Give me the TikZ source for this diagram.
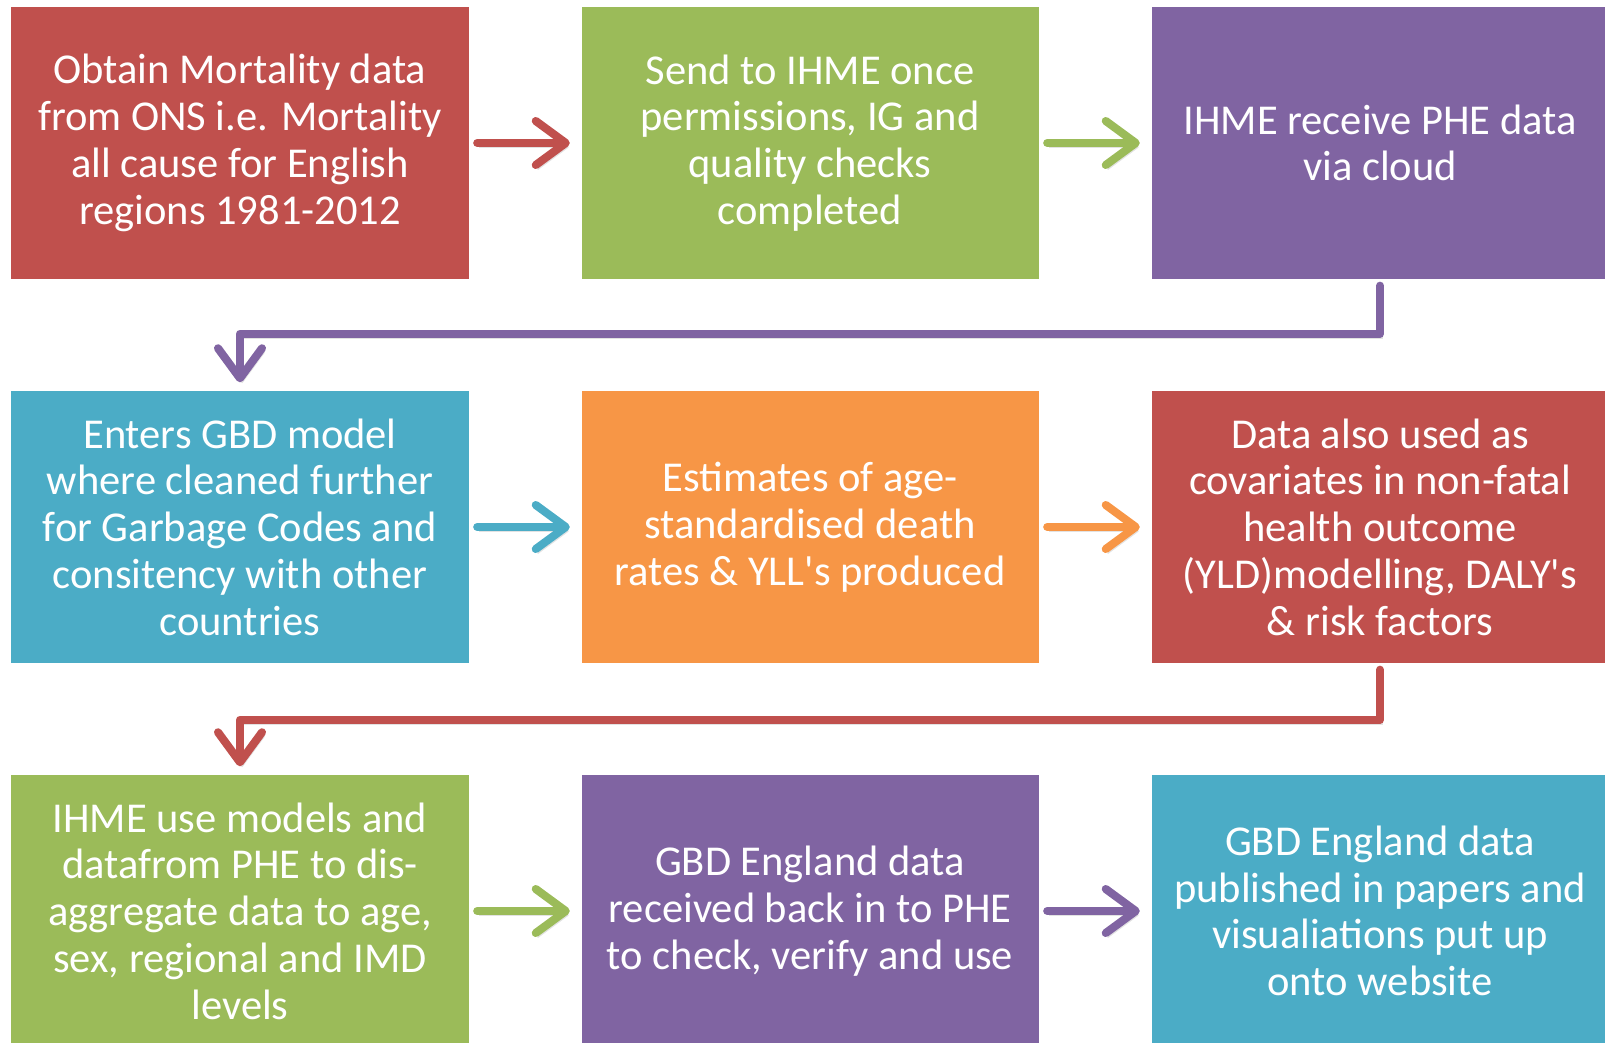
\documentclass[tikz,border=0pt]{standalone}
\usepackage{fontspec}
\setmainfont{Carlito}[Ligatures=TeXOff]
\usetikzlibrary{arrows.meta}
\definecolor{boxred}{HTML}{C0504D}
\definecolor{boxgreen}{HTML}{9BBB59}
\definecolor{boxpurple}{HTML}{8064A2}
\definecolor{boxaqua}{HTML}{4BACC6}
\definecolor{boxorange}{HTML}{F79646}
\begin{document}
\begin{tikzpicture}[
    stage/.style={fill=#1, minimum width=4.57cm, minimum height=2.72cm, inner sep=0pt,
        align=center, text=white, font=\fontsize{12.1}{13.3}\selectfont},
    flow/.style={draw=#1, line width=2.3pt, line cap=round, line join=round,
        -{Straight Barb[length=0.3cm, width=0.44cm, round]},
        preaction={draw=black!45, opacity=0.25, transform canvas={shift={(0.6pt,-1.2pt)}}}}
    ]
    \useasboundingbox (0,0) rectangle (16.05,-10.42);

    % row 1
    \node[stage=boxred]    (ons)    at (2.40,-1.43) {Obtain Mortality data\\from ONS i.e. Mortality\\all cause for English\\regions 1981-2012};
    \node[stage=boxgreen]  (send)   at (8.10,-1.43) {Send to IHME once\\permissions, IG and\\quality checks\\completed};
    \node[stage=boxpurple] (cloud)  at (13.80,-1.43) {IHME receive PHE data\\via cloud};

    % row 2
    \node[stage=boxaqua]   (gbd)    at (2.40,-5.27) {Enters GBD model\\where cleaned further\\for Garbage Codes and\\consitency with other\\countries};
    \node[stage=boxorange] (rates)  at (8.10,-5.27) {Estimates of age-\\standardised death\\rates \& YLL's produced};
    \node[stage=boxred]    (yld)    at (13.80,-5.27) {Data also used as\\covariates in non-fatal\\health outcome\\(YLD)modelling, DALY's\\\& risk factors};

    % row 3
    \node[stage=boxgreen]  (disagg) at (2.40,-9.11) {IHME use models and\\datafrom PHE to dis-\\aggregate data to age,\\sex, regional and IMD\\levels};
    \node[stage=boxpurple] (back)   at (8.10,-9.11) {GBD England data\\received back in to PHE\\to check, verify and use};
    \node[stage=boxaqua]   (web)    at (13.80,-9.11) {GBD England data\\published in papers and\\visualiations put up\\onto website};

    % arrows along the rows
    \draw[flow=boxred,    shorten <=0.08cm, shorten >=0.11cm] (ons.east) -- (send.west);
    \draw[flow=boxgreen,  shorten <=0.08cm, shorten >=0.11cm] (send.east) -- (cloud.west);
    \draw[flow=boxaqua,   shorten <=0.08cm, shorten >=0.11cm] (gbd.east) -- (rates.west);
    \draw[flow=boxorange, shorten <=0.08cm, shorten >=0.11cm] (rates.east) -- (yld.west);
    \draw[flow=boxgreen,  shorten <=0.08cm, shorten >=0.11cm] (disagg.east) -- (back.west);
    \draw[flow=boxpurple, shorten <=0.08cm, shorten >=0.11cm] (back.east) -- (web.west);

    % arrows back to the next row
    \draw[flow=boxpurple, shorten <=0.06cm, shorten >=0.08cm] (cloud.south) -- ++(0,-0.54) -| (gbd.north);
    \draw[flow=boxred,    shorten <=0.06cm, shorten >=0.08cm] (yld.south) -- ++(0,-0.56) -| (disagg.north);
\end{tikzpicture}
\end{document}
